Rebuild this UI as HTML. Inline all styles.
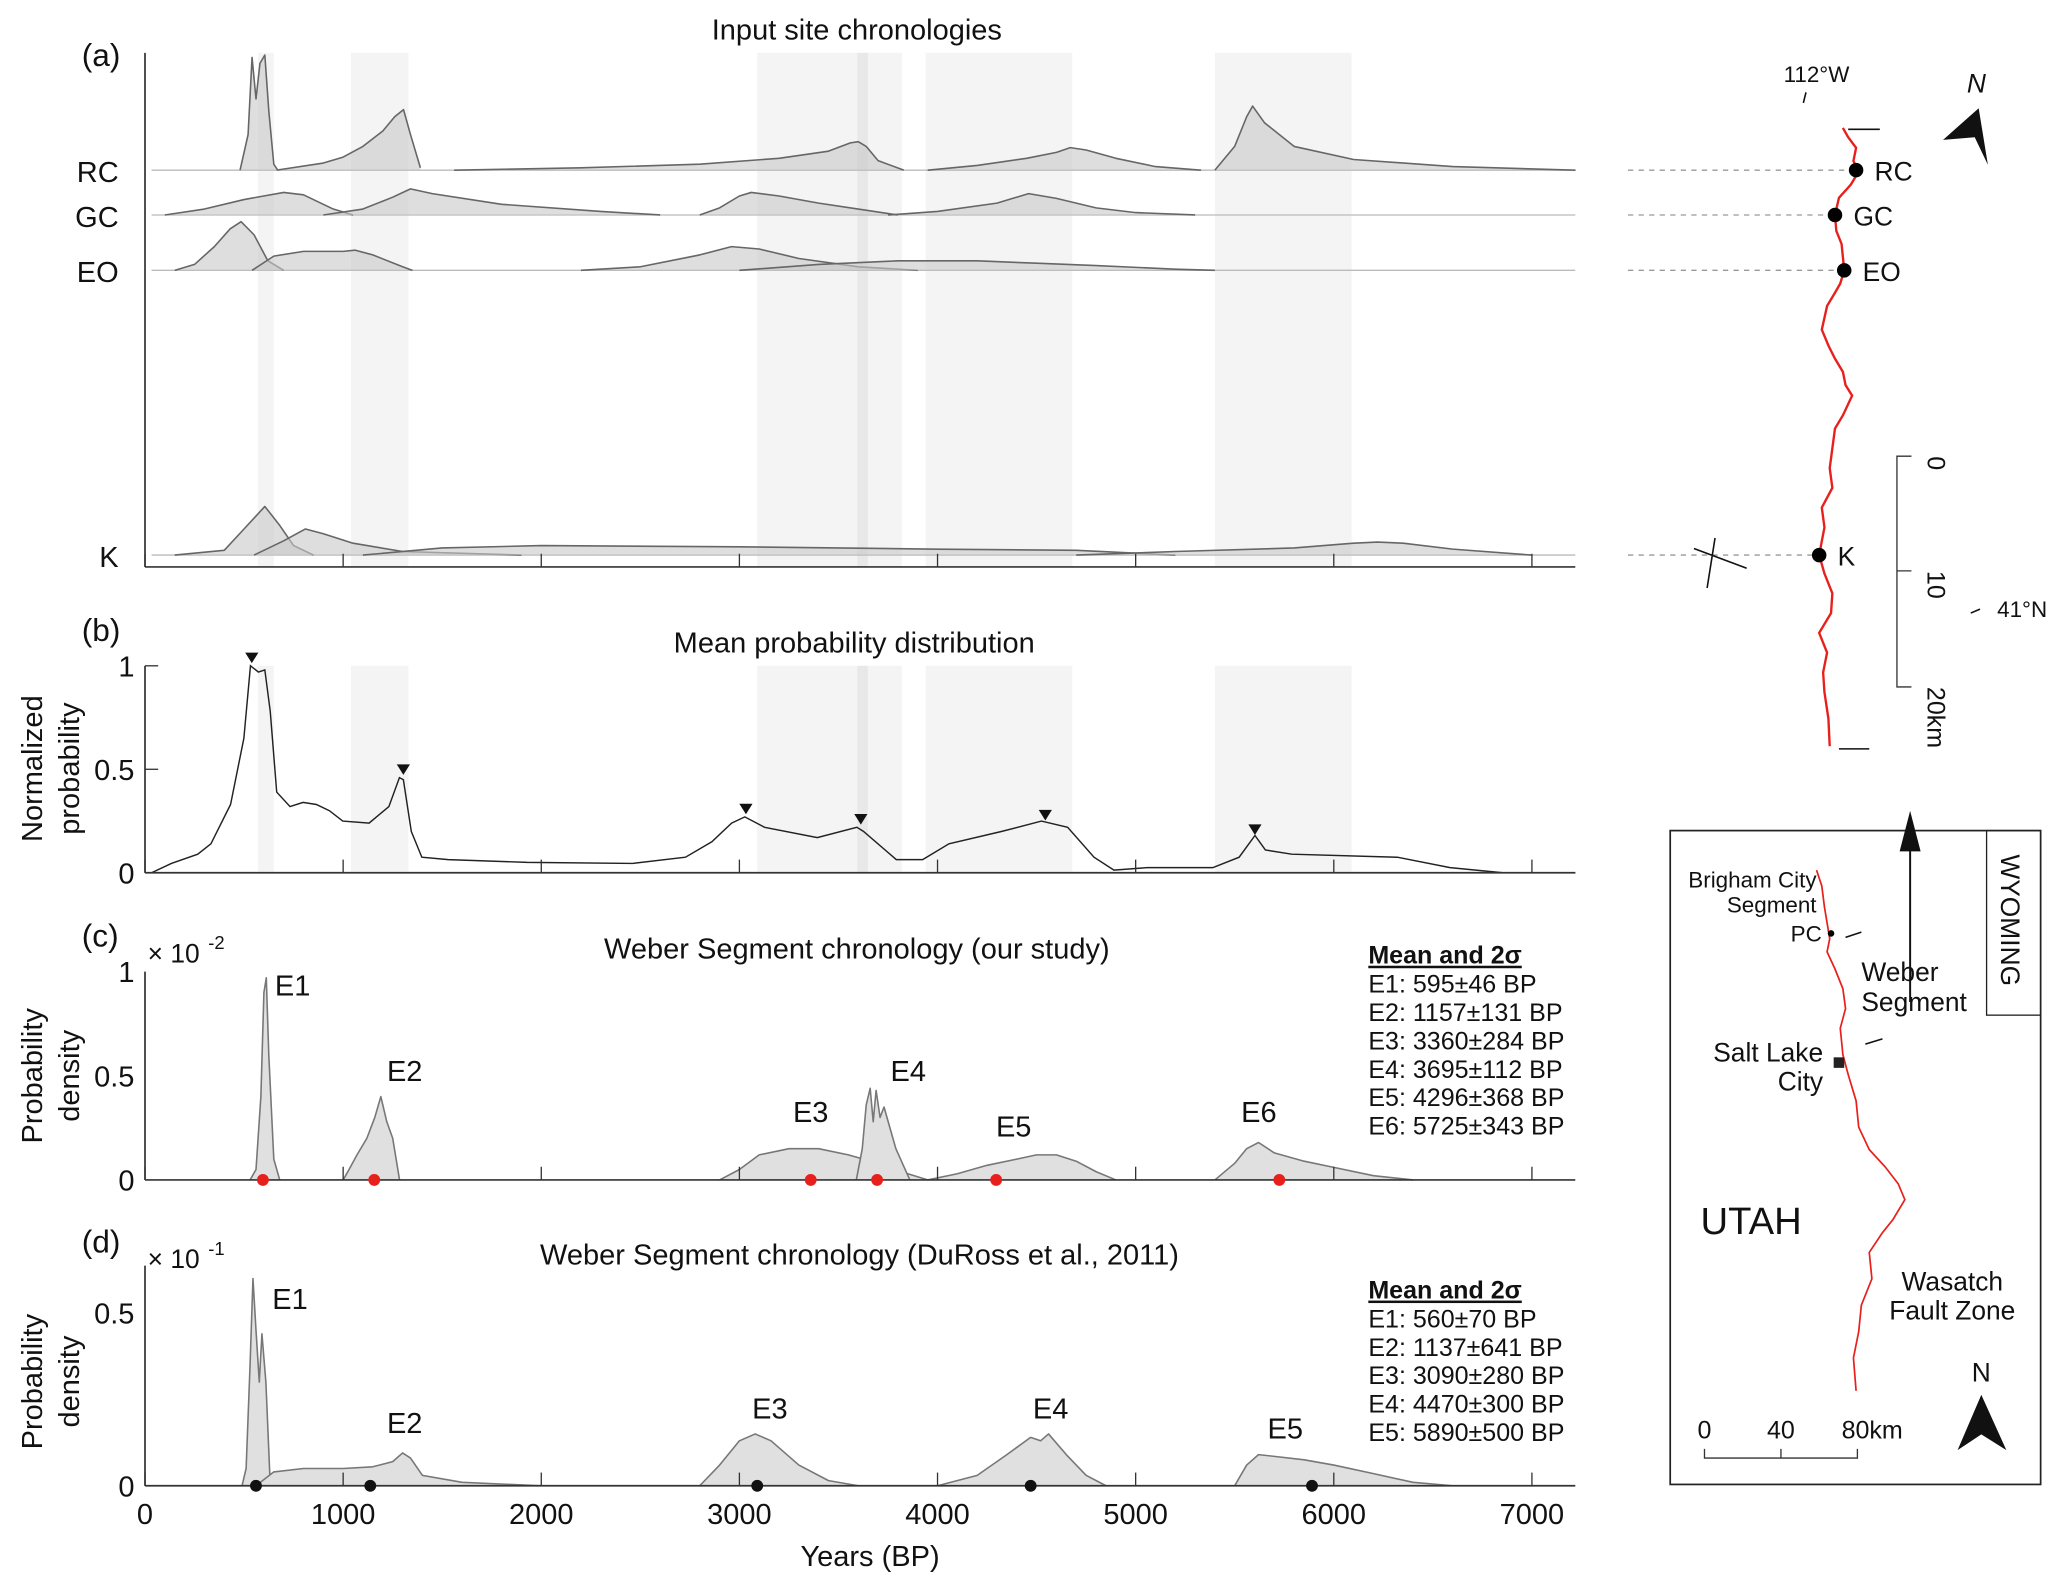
<!DOCTYPE html>
<html><head><meta charset="utf-8">
<style>
html,body{margin:0;padding:0;background:#fff;}
svg{display:block;font-family:"Liberation Sans",Arial,sans-serif;}
</style></head>
<body>
<svg id="fig" width="2067" height="1590" viewBox="0 0 1568 1206" xmlns="http://www.w3.org/2000/svg">
<g id="bands"></g>
<g id="plots"></g>
<g id="map"></g>
</svg>
<script>
// ---------- data ----------
const bandStarts=[570,1040,3090,3940,5400];
const bandEnds=[650,1330,3820,4680,6090];
const tickYears=[0,1000,2000,3000,4000,5000,6000,7000];
// panel a: rows
const rowNames=["RC","GC","EO","K"];
const rowBase=[129,163,205,421];
const rcYears=[[480,520,540,560,580,605,625,650,670],[665,900,1000,1100,1200,1260,1305,1340,1390],[1560,2200,2800,3200,3450,3560,3600,3640,3700,3830],[3950,4200,4450,4600,4670,4750,4900,5100,5330],[5400,5500,5560,5590,5650,5800,6100,6600,7220]];
const rcVals=[[0,0.3,0.95,0.6,0.9,0.97,0.5,0.05,0],[0,0.06,0.11,0.2,0.33,0.45,0.51,0.3,0.02],[0,0.02,0.05,0.1,0.16,0.23,0.24,0.2,0.08,0],[0,0.04,0.1,0.15,0.19,0.17,0.1,0.03,0],[0,0.2,0.45,0.54,0.4,0.2,0.09,0.03,0]];
const gcYears=[[100,300,500,700,800,950,1050],[900,1100,1250,1340,1450,1800,2300,2600],[2800,2900,3000,3060,3200,3400,3600,3800],[3750,4000,4300,4460,4600,4800,5000,5300]];
const gcVals=[[0,0.05,0.13,0.19,0.17,0.05,0],[0,0.05,0.15,0.22,0.18,0.09,0.03,0],[0,0.06,0.16,0.19,0.16,0.1,0.05,0],[0,0.03,0.1,0.18,0.14,0.06,0.02,0]];
const eoYears=[[150,250,350,430,485,550,620,700],[540,650,800,1000,1060,1150,1300,1350],[2200,2500,2800,2960,3100,3300,3600,3900],[3000,3400,3800,4200,4500,4800,5200,5400]];
const eoVals=[[0,0.05,0.2,0.35,0.41,0.3,0.08,0],[0,0.12,0.16,0.16,0.17,0.13,0.03,0],[0,0.03,0.13,0.2,0.18,0.1,0.03,0],[0,0.05,0.08,0.08,0.06,0.04,0.01,0]];
const kYears=[[150,400,500,605,680,750,850],[550,700,810,900,1050,1300,1900],[1100,1500,2000,3000,4000,4700,5200],[4700,5200,5800,6100,6220,6350,6600,7000]];
const kVals=[[0,0.04,0.22,0.41,0.25,0.08,0],[0,0.12,0.22,0.18,0.1,0.03,0],[0,0.06,0.08,0.07,0.05,0.04,0],[0,0.03,0.06,0.1,0.11,0.1,0.05,0]];
// panel b
const meanYears=[33,133,266,333,432,499,532,572,605,632,665,732,798,865,931,998,1131,1231,1284,1304,1344,1397,1530,1929,2462,2728,2861,2961,3027,3127,3393,3593,3626,3792,3925,4058,4325,4524,4657,4790,4890,5057,5389,5522,5602,5655,5788,6321,6587,6853,7219];
const meanVals=[0,0.045,0.09,0.14,0.33,0.65,1,0.97,0.98,0.78,0.39,0.32,0.34,0.33,0.3,0.25,0.24,0.32,0.46,0.45,0.2,0.075,0.064,0.05,0.045,0.075,0.15,0.24,0.27,0.22,0.17,0.22,0.2,0.064,0.064,0.14,0.2,0.25,0.22,0.075,0.013,0.025,0.025,0.075,0.18,0.11,0.09,0.075,0.025,0,0];
const peakYears=[539,1304,3033,3613,4544,5602];
const peakVals=[1,0.46,0.27,0.22,0.24,0.17];
// panel c (x1e-2)
const cNames=["E1","E2","E3","E4","E5","E6"];
const cYears=[[530,560,585,600,612,625,650,680],[1000,1030,1070,1120,1160,1190,1220,1250,1285],[2900,3000,3100,3250,3400,3550,3700,3850,3950],[3590,3620,3640,3660,3675,3690,3710,3730,3760,3790,3860],[3950,4100,4250,4400,4500,4600,4700,4800,4900],[5400,5500,5560,5620,5700,5850,6000,6200,6400]];
const cVals=[[0,0.05,0.4,0.9,0.97,0.6,0.1,0],[0,0.05,0.12,0.2,0.3,0.4,0.28,0.2,0],[0,0.05,0.12,0.15,0.15,0.12,0.08,0.03,0],[0,0.15,0.36,0.44,0.28,0.43,0.3,0.35,0.25,0.15,0],[0,0.03,0.07,0.1,0.12,0.12,0.09,0.04,0],[0,0.08,0.15,0.18,0.13,0.09,0.06,0.02,0]];
const cMeans=[595,1157,3360,3695,4296,5725];
const cErr=["595±46","1157±131","3360±284","3695±112","4296±368","5725±343"];
// panel d (x1e-1)
const dNames=["E1","E2","E3","E4","E5"];
const dYears=[[490,510,530,545,560,577,590,610,630,660],[560,650,800,1000,1150,1250,1300,1340,1400,1600,2000],[2800,2900,3000,3080,3160,3300,3450,3600],[4000,4200,4350,4470,4520,4560,4650,4750,4850],[5500,5560,5620,5700,5850,6000,6200,6400,6600]];
const dVals=[[0,0.05,0.35,0.6,0.45,0.3,0.44,0.3,0.03,0],[0,0.04,0.05,0.05,0.055,0.07,0.095,0.08,0.03,0.01,0],[0,0.06,0.13,0.15,0.13,0.06,0.015,0],[0,0.03,0.09,0.14,0.13,0.15,0.09,0.03,0],[0,0.06,0.09,0.085,0.075,0.06,0.035,0.01,0]];
const dMeans=[560,1137,3090,4470,5890];
const dErr=["560±70","1137±641","3090±280","4470±300","5890±500"];

// ---------- helpers ----------
const NS="http://www.w3.org/2000/svg";
const svg=document.getElementById('fig');
const X0=110,PX=0.1503;
function xs(y){return X0+y*PX;}
function mk(tag,attrs,parent,txt){const e=document.createElementNS(NS,tag);for(const k in attrs)e.setAttribute(k,attrs[k]);if(txt!==undefined)e.textContent=txt;(parent||svg).appendChild(e);return e;}
function pathFrom(yrs,vals,yf){let d='';for(let i=0;i<yrs.length;i++){d+=(i?'L':'M')+xs(yrs[i]).toFixed(1)+','+yf(vals[i]).toFixed(1);}return d;}
function area(yrs,vals,yf,base,name,fill,stroke){
 const d=pathFrom(yrs,vals,yf);
 const a=mk('path',{d:d+'L'+xs(yrs[yrs.length-1])+','+base+'L'+xs(yrs[0])+','+base+'Z',fill:fill,stroke:'none'});
 
 
 const l=mk('path',{d:d,fill:'none',stroke:stroke,'stroke-width':1.2,'stroke-linejoin':'round'});
 
 
}
function text(x,y,s,opt,name){opt=opt||{};const t=mk('text',Object.assign({x:x,y:y,'font-size':22,fill:'#111'},opt),svg,s);return t;}
function xaxis(y,name,labels){
 const ln=mk('line',{x1:110,y1:y,x2:1195,y2:y,stroke:'#333','stroke-width':1.3});
 
 
 tickYears.forEach(t=>{const tk=mk('line',{x1:xs(t),y1:y,x2:xs(t),y2:y-10,stroke:'#333','stroke-width':1});
  
  
  if(labels)text(xs(t),y+29,String(t),{'text-anchor':'middle'},'x-tick-label');});
}
function yaxis(top,bot,name){const l=mk('line',{x1:110,y1:top,x2:110,y2:bot,stroke:'#333','stroke-width':1.3});}

// ---------- bands ----------
const bg=document.getElementById('bands');
for(let i=0;i<bandStarts.length;i++){
 [[40,430],[505,662]].forEach(r=>{const b=mk('rect',{x:xs(bandStarts[i]),y:r[0],width:xs(bandEnds[i])-xs(bandStarts[i]),height:r[1]-r[0],fill:'#f4f4f4'},bg);
 
 });
}
const db=mk('rect',{x:xs(3595),y:40,width:8,height:390,fill:'#e8e8e8'},bg);
const db2=mk('rect',{x:xs(3595),y:505,width:8,height:157,fill:'#e8e8e8'},bg);

// ---------- panel a ----------
text(650,30,'Input site chronologies',{'text-anchor':'middle'},'panel-a-title');
text(62,50,'(a)',{'font-size':24},'panel-a-letter');
yaxis(40,430,'panel-a-y-axis');
const sets=[[rcYears,rcVals],[gcYears,gcVals],[eoYears,eoVals],[kYears,kVals]];
sets.forEach((s,ri)=>{
 const base=rowBase[ri];
 const bl=mk('line',{x1:115,y1:base,x2:1195,y2:base,stroke:'#bbb','stroke-width':1});
 s[0].forEach((yrs,k)=>area(yrs,s[1][k],v=>base-v*90,base,'site-'+rowNames[ri]+'-'+k,'rgba(200,200,200,0.6)','#666'));
 text(90,base+9,rowNames[ri],{'text-anchor':'end'},'row-label-'+rowNames[ri]);
});
xaxis(430,'panel-a-x-axis',false);

// ---------- panel b ----------
text(648,495,'Mean probability distribution',{'text-anchor':'middle'},'panel-b-title');
text(62,486,'(b)',{'font-size':24},'panel-b-letter');
yaxis(505,662,'panel-b-y-axis');
const yb=v=>662-v*157;
const ml=mk('path',{d:pathFrom(meanYears,meanVals,yb),fill:'none',stroke:'#222','stroke-width':1.1});


peakYears.forEach((p,i)=>{const x=xs(p),y=yb(peakVals[i])-2;const t=mk('path',{d:`M${x-5},${y-8}L${x+5},${y-8}L${x},${y}Z`,fill:'#111'});
 
 });
[[1,'1'],[0.5,'0.5'],[0,'0']].forEach(a=>{text(102,yb(a[0])+8,a[1],{'text-anchor':'end'},'y-tick-label');const tk=mk('line',{x1:110,y1:yb(a[0]),x2:120,y2:yb(a[0]),stroke:'#333'});});
xaxis(662,'panel-b-x-axis',false);
text(0,0,'Normalized',{transform:'translate(32,583) rotate(-90)','text-anchor':'middle'},'y-axis-title-b1');
text(0,0,'probability',{transform:'translate(60,583) rotate(-90)','text-anchor':'middle'},'y-axis-title-b2');

// ---------- panel c ----------
text(650,727,'Weber Segment chronology (our study)',{'text-anchor':'middle'},'panel-c-title');
text(62,718,'(c)',{'font-size':24},'panel-c-letter');
text(112,730,'× 10',{'font-size':20},'exponent-c');text(158,720,'-2',{'font-size':14},'exponent-c-power');
yaxis(737,895,'panel-c-y-axis');
const yc=v=>895-v*158;
cYears.forEach((yrs,i)=>area(yrs,cVals[i],yc,895,'event-c-'+cNames[i],'#e0e0e0','#777'));
const cLab=[[222,755],[307,820],[615,851],[689,820],[769,862],[955,851]];
cNames.forEach((n,i)=>text(cLab[i][0],cLab[i][1],n,{'text-anchor':'middle'},'event-label-c'));
[[1,'1'],[0.5,'0.5'],[0,'0']].forEach(a=>{text(102,yc(a[0])+8,a[1],{'text-anchor':'end'},'y-tick-label');});
xaxis(895,'panel-c-x-axis',false);
cMeans.forEach(m=>{const c=mk('circle',{cx:xs(m),cy:895,r:4.5,fill:'#e8201c'});});
text(0,0,'Probability',{transform:'translate(32,816) rotate(-90)','text-anchor':'middle'},'y-axis-title-c1');
text(0,0,'density',{transform:'translate(60,816) rotate(-90)','text-anchor':'middle'},'y-axis-title-c2');
text(1038,731,'Mean and 2σ',{'font-size':19,'font-weight':'bold','text-decoration':'underline'},'legend-title-c');
cErr.forEach((e,i)=>text(1038,753+i*21.5,cNames[i]+': '+e+' BP',{'font-size':19},'legend-entry-c'));

// ---------- panel d ----------
text(652,959,'Weber Segment chronology (DuRoss et al., 2011)',{'text-anchor':'middle'},'panel-d-title');
text(62,950,'(d)',{'font-size':24},'panel-d-letter');
text(112,962,'× 10',{'font-size':20},'exponent-d');text(158,952,'-1',{'font-size':14},'exponent-d-power');
yaxis(960,1127,'panel-d-y-axis');
const yd=v=>1127-v*262;
dYears.forEach((yrs,i)=>area(yrs,dVals[i],yd,1127,'event-d-'+dNames[i],'#e0e0e0','#777'));
const dLab=[[220,993],[307,1087],[584,1076],[797,1076],[975,1091]];
dNames.forEach((n,i)=>text(dLab[i][0],dLab[i][1],n,{'text-anchor':'middle'},'event-label-d'));
[[0.5,'0.5'],[0,'0']].forEach(a=>{text(102,yd(a[0])+8,a[1],{'text-anchor':'end'},'y-tick-label');});
xaxis(1127,'panel-d-x-axis',true);
dMeans.forEach(m=>{const c=mk('circle',{cx:xs(m),cy:1127,r:4.5,fill:'#111'});});
text(0,0,'Probability',{transform:'translate(32,1048) rotate(-90)','text-anchor':'middle'},'y-axis-title-d1');
text(0,0,'density',{transform:'translate(60,1048) rotate(-90)','text-anchor':'middle'},'y-axis-title-d2');
text(1038,985,'Mean and 2σ',{'font-size':19,'font-weight':'bold','text-decoration':'underline'},'legend-title-d');
dErr.forEach((e,i)=>text(1038,1007+i*21.5,dNames[i]+': '+e+' BP',{'font-size':19},'legend-entry-d'));
text(660,1188,'Years (BP)',{'text-anchor':'middle'},'x-axis-title');

// ---------- map ----------
const mg=document.getElementById('map');
const site=[[1408,129,'RC'],[1392,163,'GC'],[1399,205,'EO'],[1380,421,'K']];
site.forEach(s=>{
 const l=mk('line',{x1:1235,y1:s[1],x2:s[0],y2:s[1],stroke:'#999','stroke-dasharray':'4,4'},mg);
});
const fault=mk('polyline',{points:'1398,97 1402,104 1408,112 1406,122 1410,130 1404,140 1395,150 1392,163 1393,175 1397,185 1399,205 1396,215 1392,222 1386,232 1382,250 1387,262 1392,272 1398,282 1400,292 1405,300 1398,315 1392,325 1390,340 1388,355 1390,370 1382,385 1384,400 1380,421 1384,435 1390,450 1389,465 1380,480 1386,495 1383,510 1384,525 1387,545 1388,566',fill:'none',stroke:'#e8201c','stroke-width':1.8},mg);


site.forEach(s=>{const c=mk('circle',{cx:s[0],cy:s[1],r:5.5,fill:'#000'},mg);
 text(s[0]+14,s[1]+8,s[2],{'font-size':20},'site-label-'+s[2]);});
[[1402,98,1426,98],[1395,568,1418,568],[1370,70,1368,78],[1301,408,1295,446],[1285,416,1325,431],[1495,465,1502,462]].forEach(a=>{const l=mk('line',{x1:a[0],y1:a[1],x2:a[2],y2:a[3],stroke:'#111','stroke-width':1.2},mg);});
text(1353,62,'112°W',{'font-size':17},'longitude-label');
text(1515,468,'41°N',{'font-size':17},'latitude-label');
const na=mk('path',{d:'M1474,106 L1501,82 L1508,125 L1498,104 Z',fill:'#111'},mg);
text(1492,70,'N',{'font-size':20,'font-style':'italic'},'north-label');
const sb=mk('path',{d:'M1450,346 L1439,346 L1439,521 L1450,521 M1439,433 L1450,433',fill:'none',stroke:'#333'},mg);
[['0',346],['10',433],['20km',521]].forEach(a=>text(0,0,a[0],{transform:`translate(1462,${a[1]}) rotate(90)`,'font-size':19},'scale-label'));

// inset
const box=mk('rect',{x:1267,y:630,width:281,height:496,fill:'none',stroke:'#222','stroke-width':1.3},mg);
const wy=mk('rect',{x:1507,y:630,width:41,height:140,fill:'none',stroke:'#222','stroke-width':1},mg);
text(0,0,'WYOMING',{transform:'translate(1518,648) rotate(90)','font-size':20},'wyoming-label');
const arr=mk('path',{d:'M1449,760 L1449,635 M1442,645 L1449,618 L1456,645 Z',fill:'#111',stroke:'#111','stroke-width':1.5},mg);
const wf=mk('polyline',{points:'1378,660 1382,672 1384,688 1386,700 1388,712 1386,722 1392,735 1398,750 1400,765 1396,780 1398,800 1402,815 1408,835 1410,855 1418,872 1430,885 1440,898 1445,910 1436,925 1428,935 1418,950 1420,970 1412,990 1410,1010 1406,1030 1408,1055',fill:'none',stroke:'#e8201c','stroke-width':1.3},mg);
text(1378,673,'Brigham City',{'font-size':17,'text-anchor':'end'},'brigham-city-label');
text(1378,692,'Segment',{'font-size':17,'text-anchor':'end'},'brigham-segment-label');
text(1382,714,'PC',{'font-size':17,'text-anchor':'end'},'pc-label');
const pc=mk('circle',{cx:1389,cy:708,r:2.5,fill:'#000'},mg);
[[1400,711,1412,707],[1415,792,1428,788]].forEach(a=>{const l=mk('line',{x1:a[0],y1:a[1],x2:a[2],y2:a[3],stroke:'#111','stroke-width':1.2},mg);});
text(1412,744,'Weber',{'font-size':20},'weber-label');
text(1412,767,'Segment',{'font-size':20},'weber-segment-label');
text(1383,805,'Salt Lake',{'font-size':20,'text-anchor':'end'},'salt-lake-label');
text(1383,827,'City',{'font-size':20,'text-anchor':'end'},'city-label');
const slc=mk('rect',{x:1391,y:802,width:8,height:8,fill:'#222'},mg);
text(1290,936,'UTAH',{'font-size':29},'utah-label');
text(1481,979,'Wasatch',{'font-size':20,'text-anchor':'middle'},'wasatch-label');
text(1481,1001,'Fault Zone',{'font-size':20,'text-anchor':'middle'},'fault-zone-label');
[['0',1293],['40',1351],['80km',1409]].forEach(a=>text(a[1],1091,a[0],{'font-size':19,'text-anchor':a[0]=='80km'?'start':'middle',dx:a[0]=='80km'?-12:0},'inset-scale-label'));
const isb=mk('path',{d:'M1293,1099 L1293,1106 L1409,1106 L1409,1099 M1351,1099 L1351,1106',fill:'none',stroke:'#333'},mg);
const na2=mk('path',{d:'M1503,1058 L1522,1100 L1503,1088 L1485,1100 Z',fill:'#111'},mg);
text(1503,1048,'N',{'font-size':20,'text-anchor':'middle'},'inset-north-label');
</script>
</body></html>
